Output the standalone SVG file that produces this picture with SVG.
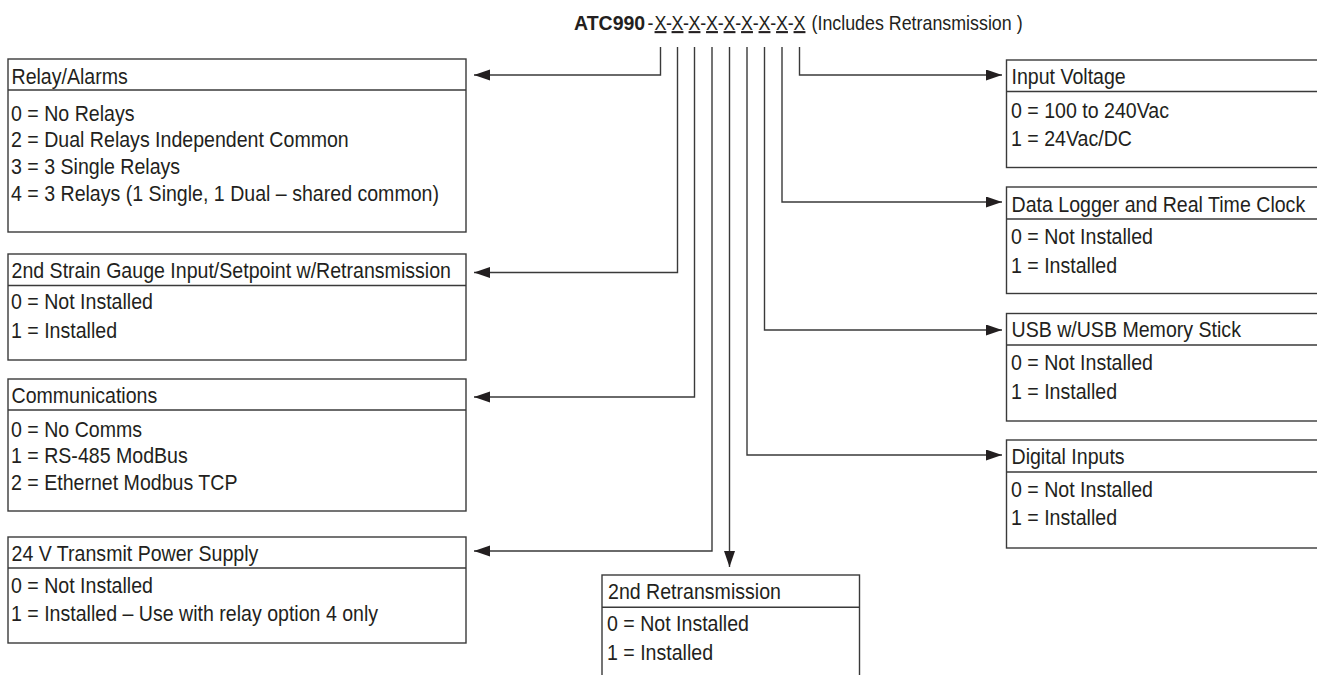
<svg xmlns="http://www.w3.org/2000/svg" width="1317" height="675" viewBox="0 0 1317 675">
<defs>
<style>
.t{font-family:"Liberation Sans",Arial,sans-serif;font-size:22px;fill:#231f20}
.h{font-family:"Liberation Sans",Arial,sans-serif;font-size:21px;fill:#231f20}
.hb{font-family:"Liberation Sans",Arial,sans-serif;font-size:21px;font-weight:bold;fill:#231f20}
.u{text-decoration:underline}
.box{fill:#fff;stroke:#3a3a3a;stroke-width:1.4}
.div{stroke:#3a3a3a;stroke-width:1.4}
.con{fill:none;stroke:#3a3a3a;stroke-width:1.4}
</style>
<marker id="ah" markerUnits="userSpaceOnUse" markerWidth="16" markerHeight="12" refX="16" refY="5.5" orient="auto">
<path d="M0,0 L16,5.5 L0,11 z" fill="#231f20"/>
</marker>
</defs>
<rect width="1317" height="675" fill="#fff"/>

<g id="title">
<text class="hb" transform="translate(574 30) scale(0.93 1)">ATC990</text>
<text class="h" text-anchor="middle" transform="translate(650.5 30) scale(0.85 1)">-</text>
<text class="h u" text-anchor="middle" transform="translate(660.5 30) scale(0.85 1)">X</text>
<text class="h" text-anchor="middle" transform="translate(669 30) scale(0.85 1)">-</text>
<text class="h u" text-anchor="middle" transform="translate(677.5 30) scale(0.85 1)">X</text>
<text class="h" text-anchor="middle" transform="translate(686 30) scale(0.85 1)">-</text>
<text class="h u" text-anchor="middle" transform="translate(694.5 30) scale(0.85 1)">X</text>
<text class="h" text-anchor="middle" transform="translate(703.3 30) scale(0.85 1)">-</text>
<text class="h u" text-anchor="middle" transform="translate(712 30) scale(0.85 1)">X</text>
<text class="h" text-anchor="middle" transform="translate(720.8 30) scale(0.85 1)">-</text>
<text class="h u" text-anchor="middle" transform="translate(729.5 30) scale(0.85 1)">X</text>
<text class="h" text-anchor="middle" transform="translate(738.3 30) scale(0.85 1)">-</text>
<text class="h u" text-anchor="middle" transform="translate(747 30) scale(0.85 1)">X</text>
<text class="h" text-anchor="middle" transform="translate(755.8 30) scale(0.85 1)">-</text>
<text class="h u" text-anchor="middle" transform="translate(764.5 30) scale(0.85 1)">X</text>
<text class="h" text-anchor="middle" transform="translate(773.3 30) scale(0.85 1)">-</text>
<text class="h u" text-anchor="middle" transform="translate(782 30) scale(0.85 1)">X</text>
<text class="h" text-anchor="middle" transform="translate(790.8 30) scale(0.85 1)">-</text>
<text class="h u" text-anchor="middle" transform="translate(799.5 30) scale(0.85 1)">X</text>
<text class="h" transform="translate(811.5 30) scale(0.85 1)">(Includes Retransmission )</text>
</g>

<g id="connectors">
<path class="con" d="M660.5,47 V75 H474" marker-end="url(#ah)"/>
<path class="con" d="M677.5,47 V272.5 H474" marker-end="url(#ah)"/>
<path class="con" d="M694.5,47 V397 H474" marker-end="url(#ah)"/>
<path class="con" d="M712,47 V551 H474" marker-end="url(#ah)"/>
<path class="con" d="M729.5,47 V567" marker-end="url(#ah)"/>
<path class="con" d="M747,47 V455 H1002" marker-end="url(#ah)"/>
<path class="con" d="M764.5,47 V330 H1002" marker-end="url(#ah)"/>
<path class="con" d="M782,47 V202 H1002" marker-end="url(#ah)"/>
<path class="con" d="M799.5,47 V75 H1002" marker-end="url(#ah)"/>
</g>

<g id="relay-alarms">
<rect class="box" x="8" y="59" width="458" height="173"/>
<line class="div" x1="8" y1="90" x2="466" y2="90"/>
<text class="t" transform="translate(11.5 84) scale(0.89 1)">Relay/Alarms</text>
<text class="t" transform="translate(11 120.5) scale(0.89 1)">0 = No Relays</text>
<text class="t" transform="translate(11 147.2) scale(0.89 1)">2 = Dual Relays Independent Common</text>
<text class="t" transform="translate(11 173.9) scale(0.89 1)">3 = 3 Single Relays</text>
<text class="t" transform="translate(11 200.6) scale(0.89 1)">4 = 3 Relays (1 Single, 1 Dual – shared common)</text>
</g>

<g id="strain-gauge">
<rect class="box" x="8" y="254" width="458" height="106"/>
<line class="div" x1="8" y1="285.5" x2="466" y2="285.5"/>
<text class="t" transform="translate(11.5 278) scale(0.89 1)">2nd Strain Gauge Input/Setpoint w/Retransmission</text>
<text class="t" transform="translate(11 309) scale(0.89 1)">0 = Not Installed</text>
<text class="t" transform="translate(11 337.5) scale(0.89 1)">1 = Installed</text>
</g>

<g id="communications">
<rect class="box" x="8" y="379" width="458" height="132"/>
<line class="div" x1="8" y1="410" x2="466" y2="410"/>
<text class="t" transform="translate(11.5 402.5) scale(0.89 1)">Communications</text>
<text class="t" transform="translate(11 436.5) scale(0.89 1)">0 = No Comms</text>
<text class="t" transform="translate(11 463.2) scale(0.89 1)">1 = RS-485 ModBus</text>
<text class="t" transform="translate(11 489.9) scale(0.89 1)">2 = Ethernet Modbus TCP</text>
</g>

<g id="transmit-power">
<rect class="box" x="8" y="537" width="458" height="106"/>
<line class="div" x1="8" y1="568" x2="466" y2="568"/>
<text class="t" transform="translate(11.5 561) scale(0.89 1)">24 V Transmit Power Supply</text>
<text class="t" transform="translate(11 593) scale(0.89 1)">0 = Not Installed</text>
<text class="t" transform="translate(11 621) scale(0.89 1)">1 = Installed – Use with relay option 4 only</text>
</g>

<g id="input-voltage">
<rect class="box" x="1006.5" y="60" width="320" height="107.5"/>
<line class="div" x1="1006.5" y1="91.5" x2="1326" y2="91.5"/>
<text class="t" transform="translate(1011.5 84) scale(0.89 1)">Input Voltage</text>
<text class="t" transform="translate(1011 117.5) scale(0.89 1)">0 = 100 to 240Vac</text>
<text class="t" transform="translate(1011 145.5) scale(0.89 1)">1 = 24Vac/DC</text>
</g>

<g id="data-logger">
<rect class="box" x="1006.5" y="187" width="320" height="106.5"/>
<line class="div" x1="1006.5" y1="219" x2="1326" y2="219"/>
<text class="t" transform="translate(1011.5 211.5) scale(0.89 1)">Data Logger and Real Time Clock</text>
<text class="t" transform="translate(1011 243.5) scale(0.89 1)">0 = Not Installed</text>
<text class="t" transform="translate(1011 272.5) scale(0.89 1)">1 = Installed</text>
</g>

<g id="usb">
<rect class="box" x="1006.5" y="313.5" width="320" height="107.5"/>
<line class="div" x1="1006.5" y1="345" x2="1326" y2="345"/>
<text class="t" transform="translate(1011.5 337) scale(0.89 1)">USB w/USB Memory Stick</text>
<text class="t" transform="translate(1011 370) scale(0.89 1)">0 = Not Installed</text>
<text class="t" transform="translate(1011 399) scale(0.89 1)">1 = Installed</text>
</g>

<g id="digital-inputs">
<rect class="box" x="1006.5" y="440" width="320" height="108"/>
<line class="div" x1="1006.5" y1="472" x2="1326" y2="472"/>
<text class="t" transform="translate(1011.5 463.5) scale(0.89 1)">Digital Inputs</text>
<text class="t" transform="translate(1011 496.5) scale(0.89 1)">0 = Not Installed</text>
<text class="t" transform="translate(1011 525) scale(0.89 1)">1 = Installed</text>
</g>

<g id="retransmission">
<rect class="box" x="602" y="575" width="257.5" height="120"/>
<line class="div" x1="602" y1="607.3" x2="859.5" y2="607.3"/>
<text class="t" transform="translate(608 598.5) scale(0.89 1)">2nd Retransmission</text>
<text class="t" transform="translate(607 630.5) scale(0.89 1)">0 = Not Installed</text>
<text class="t" transform="translate(607 660) scale(0.89 1)">1 = Installed</text>
</g>
</svg>
